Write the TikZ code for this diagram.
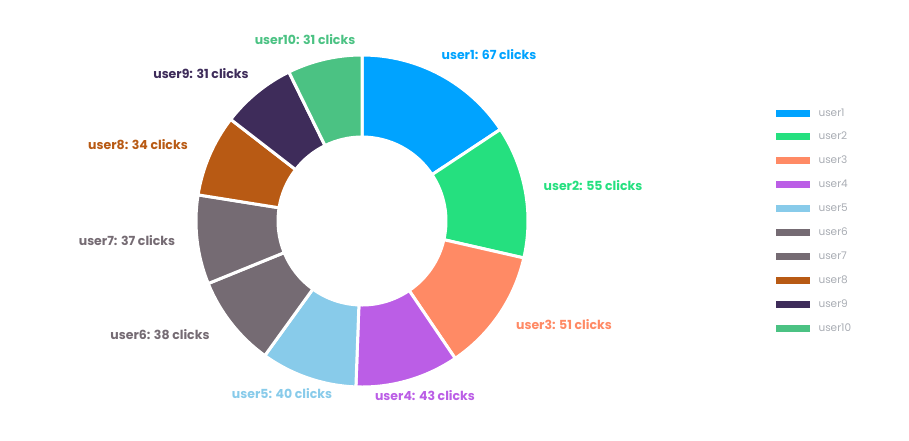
\documentclass[tikz,border=0pt]{standalone}
\usepackage{fontspec}
\setmainfont{Poppins}
\definecolor{c1}{HTML}{00A3FF}
\definecolor{c2}{HTML}{25E07F}
\definecolor{c3}{HTML}{FF8A65}
\definecolor{c4}{HTML}{BB5EE6}
\definecolor{c5}{HTML}{88CBEA}
\definecolor{c6}{HTML}{756B73}
\definecolor{c7}{HTML}{756B73}
\definecolor{c8}{HTML}{B85A14}
\definecolor{c9}{HTML}{3E2C5A}
\definecolor{c10}{HTML}{4BC283}
\definecolor{leg}{HTML}{A8ACB3}
\tikzset{lbl/.style={font=\bfseries\fontsize{12.5}{14}\selectfont}, legtxt/.style={font=\fontsize{10.5}{12}\selectfont,text=leg,anchor=west}}
\begin{document}
\begin{tikzpicture}[x=1pt,y=-1pt]
\useasboundingbox (0,0) rectangle (909,440);
\coordinate (c) at (362,221);
\foreach \a/\b/\col in {90/33.51/c1,33.51/-12.86/c2,-12.86/-55.85/c3,-55.85/-92.11/c4,-92.11/-125.83/c5,-125.83/-157.87/c6,-157.87/-189.06/c7,-189.06/-217.73/c8,-217.73/-243.86/c9,-243.86/-270/c10}{
  \fill[\col,draw=white,line width=3pt,line join=miter] ([shift={(-\a:166)}]c) arc[start angle=-\a,end angle=-\b,radius=166] -- ([shift={(-\b:84)}]c) arc[start angle=-\b,end angle=-\a,radius=84] -- cycle;
}
\node[lbl,text=c1] (l1) at (489,55) {user1: 67 clicks};
\node[lbl,text=c2] (l2) at (593,186) {user2: 55 clicks};
\node[lbl,text=c3] (l3) at (564,325) {user3: 51 clicks};
\node[lbl,text=c4] (l4) at (425,396) {user4: 43 clicks};
\node[lbl,text=c5] (l5) at (282,394) {user5: 40 clicks};
\node[lbl,text=c6] (l6) at (160,335) {user6: 38 clicks};
\node[lbl,text=c7] (l7) at (127,241) {user7: 37 clicks};
\node[lbl,text=c8] (l8) at (138,145) {user8: 34 clicks};
\node[lbl,text=c9] (l9) at (201,74) {user9: 31 clicks};
\node[lbl,text=c10] (l10) at (305,40) {user10: 31 clicks};
\foreach \i/\y in {1/113,2/136,3/160,4/184,5/208,6/232,7/256,8/280,9/304,10/328}{
  \fill[c\i] (776,\y-3.5) rectangle (810,\y+3.5);
  \node[legtxt] (g\i) at (815,\y) {user\i};
}
\end{tikzpicture}
\end{document}
